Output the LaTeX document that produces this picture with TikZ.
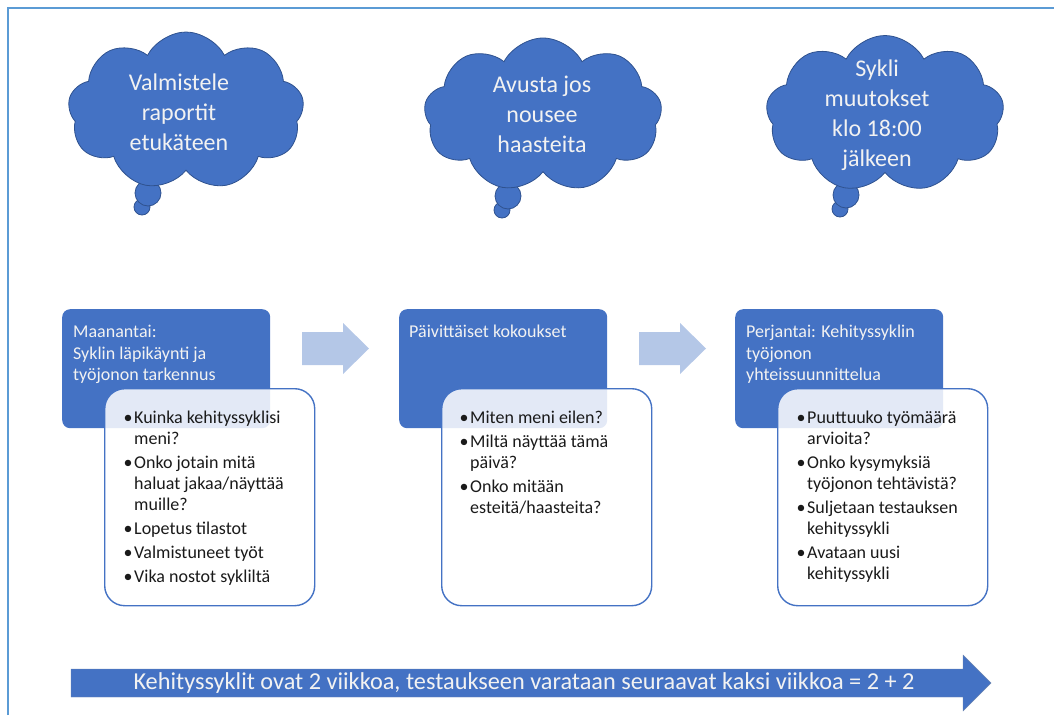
\documentclass[tikz,border=0pt]{standalone}
\usepackage{fontspec}
\setmainfont{Carlito}
\usetikzlibrary{shapes.symbols}

\definecolor{officeblue}{HTML}{4472C4}
\definecolor{clouddark}{HTML}{2F528F}
\definecolor{framecol}{HTML}{5B9BD5}
\definecolor{paleblue}{HTML}{B4C7E7}
\definecolor{softwhite}{HTML}{F2F2F2}
\definecolor{bodytext}{HTML}{1A1A1A}

% bullet marker and hanging continuation
\newcommand\bul{\makebox[11pt][l]{\hspace{0.5pt}•}}
\newcommand\cont{\hspace*{11pt}}

\tikzset{
  thought/.style={cloud, cloud puffs=9, cloud puff arc=125, cloud ignores aspect,
    draw=clouddark, fill=officeblue, line width=0.8pt, inner sep=0pt},
  bubble/.style={circle, draw=clouddark, fill=officeblue, line width=0.8pt, inner sep=0pt},
  cloudtext/.style={align=center, text=softwhite, inner sep=0pt,
    font=\fontsize{24}{30}\selectfont},
  headbox/.style={rectangle, rounded corners=8pt, fill=officeblue, inner sep=0pt,
    minimum width=208pt, minimum height=119pt, anchor=north west},
  headtext/.style={align=left, text=softwhite, inner sep=0pt, anchor=north west,
    font=\fontsize{18}{21.5}\selectfont},
  listbox/.style={rectangle, rounded corners=20pt, draw=officeblue, line width=1.4pt,
    fill=white, fill opacity=0.85, inner sep=0pt,
    minimum width=210pt, minimum height=217pt, anchor=north west},
  listtext/.style={align=left, text=bodytext, inner sep=0pt, anchor=north west,
    font=\fontsize{18}{21}\selectfont},
  steparrow/.style={fill=paleblue},
  bartext/.style={text=softwhite, inner sep=0pt, font=\fontsize{24.3}{28}\selectfont},
}

\begin{document}
\begin{tikzpicture}[x=1pt, y=-1pt]
\useasboundingbox (0,0) rectangle (1054,715);

% page frame
\draw[framecol, line width=2pt] (8,715) -- (8,8) -- (1054,8);

% thought clouds
\node[bubble, minimum size=16pt] (b1s) at (142,207) {};
\node[bubble, minimum size=26pt] (b1b) at (148,193) {};
\node[thought, minimum width=236pt, minimum height=158pt] (c1) at (186,111) {};
\node[cloudtext] (t1) at (179,112) {Valmistele\\raportit\\etukäteen};

\node[bubble, minimum size=16pt] (b2s) at (502,210) {};
\node[bubble, minimum size=26pt] (b2b) at (508,196) {};
\node[thought, minimum width=238pt, minimum height=154pt] (c2) at (543,115) {};
\node[cloudtext] (t2) at (542,114) {Avusta jos\\nousee\\haasteita};

\node[bubble, minimum size=16pt] (b3s) at (840,209) {};
\node[bubble, minimum size=26pt] (b3b) at (846,195) {};
\node[thought, minimum width=238pt, minimum height=157pt] (c3) at (885,114) {};
\node[cloudtext] (t3) at (877,115) {Sykli\\muutokset\\klo 18:00\\jälkeen};

% step arrows between the columns
\fill[steparrow] (302,332) -- ++(41,0) -- ++(0,-9) -- ++(26,25.5) -- ++(-26,25.5)
  -- ++(0,-9) -- ++(-41,0) -- cycle;
\fill[steparrow] (639,332) -- ++(41,0) -- ++(0,-9) -- ++(26,25.5) -- ++(-26,25.5)
  -- ++(0,-9) -- ++(-41,0) -- cycle;

% column 1
\node[headbox] (h1) at (62,309) {};
\node[headtext] (h1t) at (73,325) {Maanantai:\\Syklin läpikäynti ja\\työjonon tarkennus};
\node[listbox] (l1) at (104,388) {};
\node[listtext] (l1t) at (123,411) {\bul Kuinka kehityssyklisi\\\cont meni?\\[3pt]
  \bul Onko jotain mitä\\\cont haluat jakaa/näyttää\\\cont muille?\\[3pt]
  \bul Lopetus tilastot\\[3pt]
  \bul Valmistuneet työt\\[3pt]
  \bul Vika nostot sykliltä};

% column 2
\node[headbox] (h2) at (399,309) {};
\node[headtext] (h2t) at (409,325) {Päivittäiset kokoukset};
\node[listbox] (l2) at (441,388) {};
\node[listtext] (l2t) at (459,411) {\bul Miten meni eilen?\\[3pt]
  \bul Miltä näyttää tämä\\\cont päivä?\\[3pt]
  \bul Onko mitään\\\cont esteitä/haasteita?};

% column 3
\node[headbox] (h3) at (735,309) {};
\node[headtext] (h3t) at (746,325) {Perjantai: Kehityssyklin\\työjonon\\yhteissuunnittelua};
\node[listbox] (l3) at (777,388) {};
\node[listtext] (l3t) at (796,411) {\bul Puuttuuko työmäärä\\\cont arvioita?\\[3pt]
  \bul Onko kysymyksiä\\\cont työjonon tehtävistä?\\[3pt]
  \bul Suljetaan testauksen\\\cont kehityssykli\\[3pt]
  \bul Avataan uusi\\\cont kehityssykli};

% timeline arrow
\fill[officeblue, draw=clouddark!70, line width=0.4pt]
  (71,669) -- (963,669) -- (963,655) -- (991,683) -- (963,711) -- (963,697) -- (71,697) -- cycle;
\node[bartext] (bar) at (524,683) {Kehityssyklit ovat 2 viikkoa, testaukseen varataan seuraavat kaksi viikkoa = 2 + 2};
\end{tikzpicture}
\end{document}
